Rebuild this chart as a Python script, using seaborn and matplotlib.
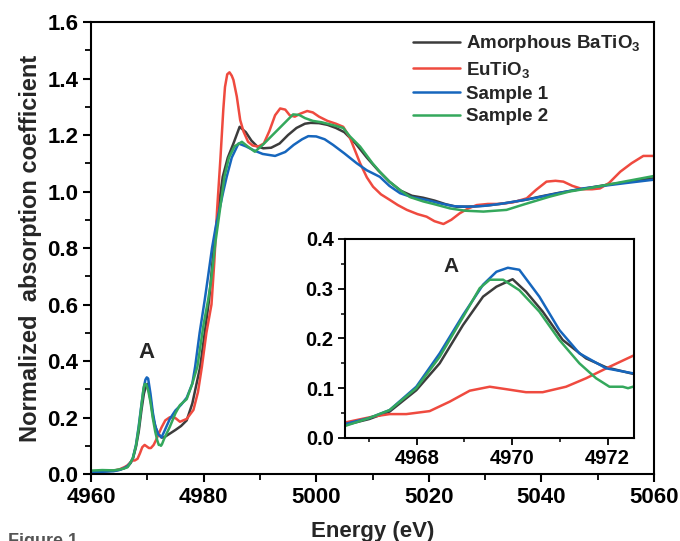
import numpy as np
import pandas as pd
import matplotlib
matplotlib.use("Agg")
import matplotlib.pyplot as plt
import seaborn as sns

# ---------------- data ----------------
series_names = ["Amorphous BaTiO$_3$", "EuTiO$_3$", "Sample 1", "Sample 2"]
series_colors = ["#3c3c3c", "#ef4a3f", "#1666bd", "#34a85c"]

black_E = [4960, 4962, 4964, 4965, 4965.8, 4966.49, 4967.0, 4967.43, 4967.99, 4968.48, 4968.97,
           4969.39, 4969.67, 4970.01, 4970.29, 4970.64, 4971.06, 4971.55, 4971.97, 4972.53, 4973,
           4974, 4975, 4976, 4977, 4978, 4979.4, 4980.2, 4981, 4981.8, 4982.6, 4983.4, 4984.3,
           4985.3, 4986.4, 4987.5, 4988.5, 4989.5, 4990.6, 4992, 4993.5, 4995, 4996.5, 4998, 4999,
           5000.5, 5002, 5003.5, 5005, 5007, 5009, 5011, 5013, 5015, 5017, 5019, 5021, 5023, 5025,
           5028, 5031, 5034, 5037, 5040, 5043, 5046, 5049, 5052, 5055, 5058, 5060]
black_v = [0.010, 0.010, 0.012, 0.015, 0.020, 0.026, 0.038, 0.053, 0.096, 0.150, 0.227,
           0.284, 0.304, 0.319, 0.294, 0.254, 0.197, 0.160, 0.142, 0.129, 0.130,
           0.143, 0.156, 0.170, 0.190, 0.250, 0.380, 0.500, 0.620, 0.800, 0.935, 1.052, 1.120,
           1.170, 1.229, 1.210, 1.180, 1.160, 1.153, 1.155, 1.170, 1.200, 1.225, 1.240, 1.243,
           1.242, 1.236, 1.225, 1.210, 1.170, 1.120, 1.075, 1.035, 1.003, 0.985, 0.978, 0.968, 0.955, 0.946,
           0.947, 0.952, 0.960, 0.970, 0.983, 0.995, 1.005, 1.015, 1.025, 1.033, 1.042, 1.047]

red_E = [4960, 4962, 4964, 4965, 4966, 4966.49, 4967.08, 4967.43, 4967.78, 4968.27, 4968.69,
         4969.11, 4969.53, 4969.88, 4970.29, 4970.64, 4971.13, 4971.55, 4972.04, 4972.53, 4973.2,
         4974.0, 4975.0, 4975.8, 4977, 4978.2, 4979, 4979.7, 4980.5, 4981.4, 4981.9, 4982.4, 4983.0,
         4983.5, 4983.8, 4984.2, 4984.6, 4985.0, 4985.3, 4985.9, 4986.5, 4987.1, 4987.9, 4988.7,
         4989.7, 4990.7, 4991.7, 4992.7, 4993.6, 4994.5, 4995.3, 4996.2, 4997.1, 4998.4, 4999.4,
         5000.5, 5002, 5003.5, 5004.8, 5006, 5007, 5007.8, 5009, 5010.1, 5011.5, 5013.1, 5014.5,
         5016.1, 5018, 5019.6, 5021, 5022.6, 5024, 5025.5, 5027, 5028.5, 5030.5, 5032.6, 5035,
         5037.4, 5039, 5040.9, 5042.5, 5043.9, 5045.5, 5047.4, 5049, 5050.4, 5052, 5054, 5056,
         5058.1, 5060]
red_v = [0.010, 0.010, 0.012, 0.016, 0.025, 0.031, 0.043, 0.048, 0.048, 0.054, 0.073,
         0.095, 0.103, 0.098, 0.092, 0.092, 0.103, 0.120, 0.143, 0.165, 0.190,
         0.201, 0.198, 0.185, 0.195, 0.227, 0.290, 0.380, 0.500, 0.600, 0.750, 0.935, 1.120,
         1.290, 1.370, 1.415, 1.422, 1.410, 1.395, 1.336, 1.253, 1.212, 1.176, 1.163,
         1.159, 1.170, 1.215, 1.270, 1.294, 1.290, 1.270, 1.265, 1.275, 1.285, 1.280,
         1.265, 1.250, 1.240, 1.229, 1.190, 1.140, 1.100, 1.050, 1.017, 0.990, 0.970, 0.952,
         0.935, 0.920, 0.911, 0.895, 0.885, 0.900, 0.923, 0.940, 0.952, 0.956, 0.956, 0.962,
         0.976, 1.005, 1.035, 1.038, 1.035, 1.020, 1.008, 1.008, 1.011, 1.030, 1.070, 1.100,
         1.126, 1.126]

blue_E = [4960, 4962, 4964, 4965, 4965.8, 4966.49, 4967.0, 4967.43, 4967.99, 4968.48, 4968.97,
          4969.39, 4969.67, 4969.91, 4970.15, 4970.57, 4970.99, 4971.41, 4971.97, 4972.53, 4973,
          4974, 4975, 4976, 4977, 4978, 4978.5, 4979.3, 4980.2, 4980.8, 4981.5, 4982.2, 4982.8,
          4983.5, 4984.1, 4985, 4986.2, 4987.5, 4989, 4990.5, 4992.7, 4994.5, 4996, 4997.5,
          4998.6, 5000, 5001.5, 5003, 5005, 5007.2, 5009, 5011.3, 5013, 5014.9, 5017, 5019.6,
          5022, 5024.4, 5027, 5029.7, 5033, 5036, 5038.6, 5042, 5045, 5047.4, 5051, 5055,
          5059.6, 5060]
blue_v = [0.008, 0.008, 0.010, 0.014, 0.020, 0.028, 0.040, 0.056, 0.103, 0.170, 0.247,
          0.308, 0.334, 0.342, 0.338, 0.284, 0.217, 0.170, 0.140, 0.130, 0.150,
          0.195, 0.225, 0.245, 0.270, 0.320, 0.380, 0.500, 0.616, 0.700, 0.800, 0.880, 0.935,
          1.000, 1.052, 1.120, 1.170, 1.160, 1.145, 1.133, 1.126, 1.140, 1.165, 1.185,
          1.196, 1.195, 1.185, 1.165, 1.135, 1.100, 1.075, 1.052, 1.020, 0.994, 0.980, 0.970,
          0.958, 0.948, 0.946, 0.949, 0.957, 0.967, 0.976, 0.990, 1.002, 1.011, 1.020, 1.030,
          1.041, 1.042]

green_E = [4960, 4962, 4964, 4965, 4965.8, 4966.49, 4967.0, 4967.43, 4967.99, 4968.48, 4968.97,
           4969.32, 4969.53, 4969.81, 4970.15, 4970.57, 4970.99, 4971.41, 4971.76, 4972.04, 4972.32,
           4972.43, 4972.6, 4973, 4974, 4975, 4975.8, 4977, 4978, 4978.9, 4980, 4980.8, 4981.3,
           4982.1, 4982.9, 4983.7, 4984.5, 4985.5, 4986.8, 4987.8, 4989.1, 4990.5, 4992, 4993.5,
           4995, 4995.9, 4997, 4998, 4999.4, 5001, 5003, 5004.8, 5006, 5007.8, 5010, 5011.3, 5013,
           5014.9, 5016.7, 5019, 5021, 5023.8, 5026.5, 5029.7, 5033.8, 5037, 5041.5, 5045, 5048,
           5052, 5056, 5060]
green_v = [0.012, 0.014, 0.013, 0.016, 0.019, 0.024, 0.040, 0.056, 0.100, 0.163, 0.243,
           0.301, 0.318, 0.318, 0.297, 0.254, 0.197, 0.150, 0.120, 0.103, 0.103,
           0.100, 0.105, 0.125, 0.167, 0.215, 0.244, 0.265, 0.320, 0.380, 0.530, 0.616, 0.680,
           0.820, 0.935, 1.052, 1.120, 1.160, 1.176, 1.160, 1.141, 1.165, 1.195, 1.225,
           1.255, 1.273, 1.271, 1.260, 1.250, 1.245, 1.235, 1.225, 1.195, 1.159, 1.100, 1.070, 1.035,
           1.005, 0.980, 0.965, 0.955, 0.940, 0.932, 0.929, 0.935, 0.955, 0.982, 1.000, 1.010,
           1.025, 1.040, 1.055]

main_xticks = [4960, 4980, 5000, 5020, 5040, 5060]
main_yticks = [0.0, 0.2, 0.4, 0.6, 0.8, 1.0, 1.2, 1.4, 1.6]
inset_xticks = [4968, 4970, 4972]
inset_yticks = [0.0, 0.1, 0.2, 0.3, 0.4]

# ---------------- build table ----------------
frames = []
for name, E, v in zip(series_names,
                      [black_E, red_E, blue_E, green_E],
                      [black_v, red_v, blue_v, green_v]):
    frames.append(pd.DataFrame({"Energy": E, "mu": v, "series": name}))
df = pd.concat(frames, ignore_index=True)
palette = dict(zip(series_names, series_colors))

# ---------------- style ----------------
sns.set_theme(style="ticks")
plt.rcParams["font.family"] = ["Liberation Sans", "DejaVu Sans"]
plt.rcParams["font.weight"] = "bold"
plt.rcParams["mathtext.fontset"] = "custom"
plt.rcParams["mathtext.rm"] = "Liberation Sans:bold"
plt.rcParams["mathtext.it"] = "Liberation Sans:bold"
plt.rcParams["mathtext.bf"] = "Liberation Sans:bold"
plt.rcParams["mathtext.default"] = "rm"

fig = plt.figure(figsize=(6.8, 5.41), dpi=100)
ax = fig.add_axes([0.1338, 0.1238, 0.828, 0.8355])

sns.lineplot(data=df, x="Energy", y="mu", hue="series", palette=palette,
             sort=False, estimator=None, linewidth=1.8, ax=ax, legend=True)

ax.set_xlim(4960, 5060)
ax.set_ylim(0, 1.6)
ax.set_xticks(main_xticks)
ax.set_yticks(main_yticks)
ax.set_xticklabels([str(t) for t in main_xticks])
ax.set_yticklabels([f"{t:.1f}" for t in main_yticks])
ax.xaxis.set_minor_locator(matplotlib.ticker.MultipleLocator(10))
ax.yaxis.set_minor_locator(matplotlib.ticker.MultipleLocator(0.1))
ax.tick_params(axis="both", which="major", direction="out", length=6, width=1.5,
               labelsize=16, pad=3, color="black", labelcolor="black")
ax.tick_params(axis="both", which="minor", direction="out", length=4, width=1.3, color="black")
for lab in ax.get_xticklabels() + ax.get_yticklabels():
    lab.set_fontweight("bold")
for sp in ax.spines.values():
    sp.set_linewidth(1.5)
    sp.set_color("black")
    sp.set_visible(True)
ax.set_xlabel("Energy (eV)", fontsize=16, fontweight="bold", labelpad=10)
ax.set_ylabel("Normalized  absorption coefficient", fontsize=17, fontweight="bold", labelpad=4)

handles, labels = ax.get_legend_handles_labels()
leg = ax.legend(handles, labels, loc="upper left", bbox_to_anchor=(0.572, 0.975),
                frameon=False, fontsize=13.5, handlelength=2.5, handletextpad=0.35,
                labelspacing=0.3, borderpad=0, borderaxespad=0)
for t in leg.get_texts():
    t.set_fontweight("bold")
for l in leg.get_lines():
    l.set_linewidth(1.8)

ax.text(4969.9, 0.43, "A", fontsize=16, fontweight="bold", ha="center", va="center")

# ---------------- inset ----------------
ins = fig.add_axes([0.507, 0.1904, 0.425, 0.368])
sns.lineplot(data=df, x="Energy", y="mu", hue="series", palette=palette,
             sort=False, estimator=None, linewidth=1.8, ax=ins, legend=False)
ins.set_xlim(4966.49, 4972.55)
ins.set_ylim(0, 0.4)
ins.set_xticks(inset_xticks)
ins.set_yticks(inset_yticks)
ins.set_xticklabels([str(t) for t in inset_xticks])
ins.set_yticklabels([f"{t:.1f}" for t in inset_yticks])
ins.xaxis.set_minor_locator(matplotlib.ticker.MultipleLocator(1))
ins.yaxis.set_minor_locator(matplotlib.ticker.MultipleLocator(0.05))
ins.tick_params(axis="both", which="major", direction="out", length=5, width=1.3,
                labelsize=14.5, pad=3, color="black", labelcolor="black")
ins.tick_params(axis="both", which="minor", direction="out", length=3, width=1.1, color="black")
for lab in ins.get_xticklabels() + ins.get_yticklabels():
    lab.set_fontweight("bold")
for sp in ins.spines.values():
    sp.set_linewidth(1.5)
    sp.set_color("black")
ins.set_xlabel("")
ins.set_ylabel("")
ins.text(4968.72, 0.344, "A", fontsize=15, fontweight="bold", ha="center", va="center")

fig.text(0.012, 0.014, "Figure 1", fontsize=13, fontweight="bold", color="#555555",
         ha="left", va="top")

fig.savefig("out.png", dpi=100)
